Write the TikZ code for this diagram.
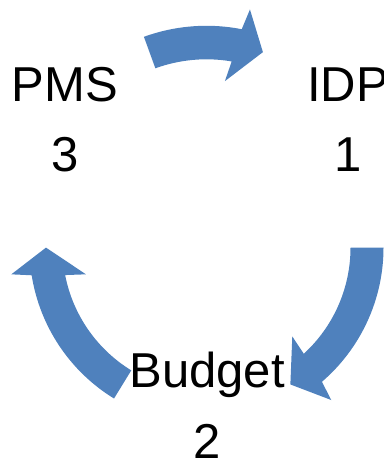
\documentclass[tikz,border=0pt]{standalone}
\usepackage{fontspec}
\setmainfont{Liberation Sans}
\usetikzlibrary{arrows.meta}
\definecolor{cycblue}{HTML}{4F81BD}

\begin{document}
\begin{tikzpicture}[x=0.75pt,y=0.75pt,
    cyctext/.style={align=center,inner sep=0pt,anchor=base,font=\fontsize{36.75}{52.5}\selectfont},
    cycarrow/.style={fill=cycblue}]
    \useasboundingbox (0,0) rectangle (384,459);
    \node[cyctext] (IDP) at (348,287) {IDP\\1};
    \node[cyctext] (Budget) at (207,1) {Budget\\2};
    \node[cyctext] (PMS) at (64.7,287) {PMS\\3};
    % IDP -> Budget, Budget -> PMS
    \begin{scope}[shift={(206.5,211.4)}]
      \fill[cycarrow] (0:177) arc[start angle=0,end angle=-49.3,radius=177] -- (-50.7:197) -- (-58.5:160.5)
        -- (-46:123.5) -- (-47.5:144) arc[start angle=-47.5,end angle=0,radius=144] -- cycle;
      \fill[cycarrow] (-121.5:177) arc[start angle=-121.5,end angle=-171,radius=177] -- (-172.2:197) -- (-180:160.5)
        -- (-167.5:123.5) -- (-169:144) arc[start angle=-169,end angle=-121.5,radius=144] -- cycle;
    \end{scope}
    % PMS -> IDP
    \begin{scope}[shift={(206.5,250.2)}]
      \fill[cycarrow] (110:183) arc[start angle=110,end angle=78.9,radius=183] -- (77.7:204) -- (70.2:166.5)
        -- (81.8:129) -- (80.3:149.5) arc[start angle=80.3,end angle=110,radius=149.5] -- cycle;
    \end{scope}
\end{tikzpicture}
\end{document}
